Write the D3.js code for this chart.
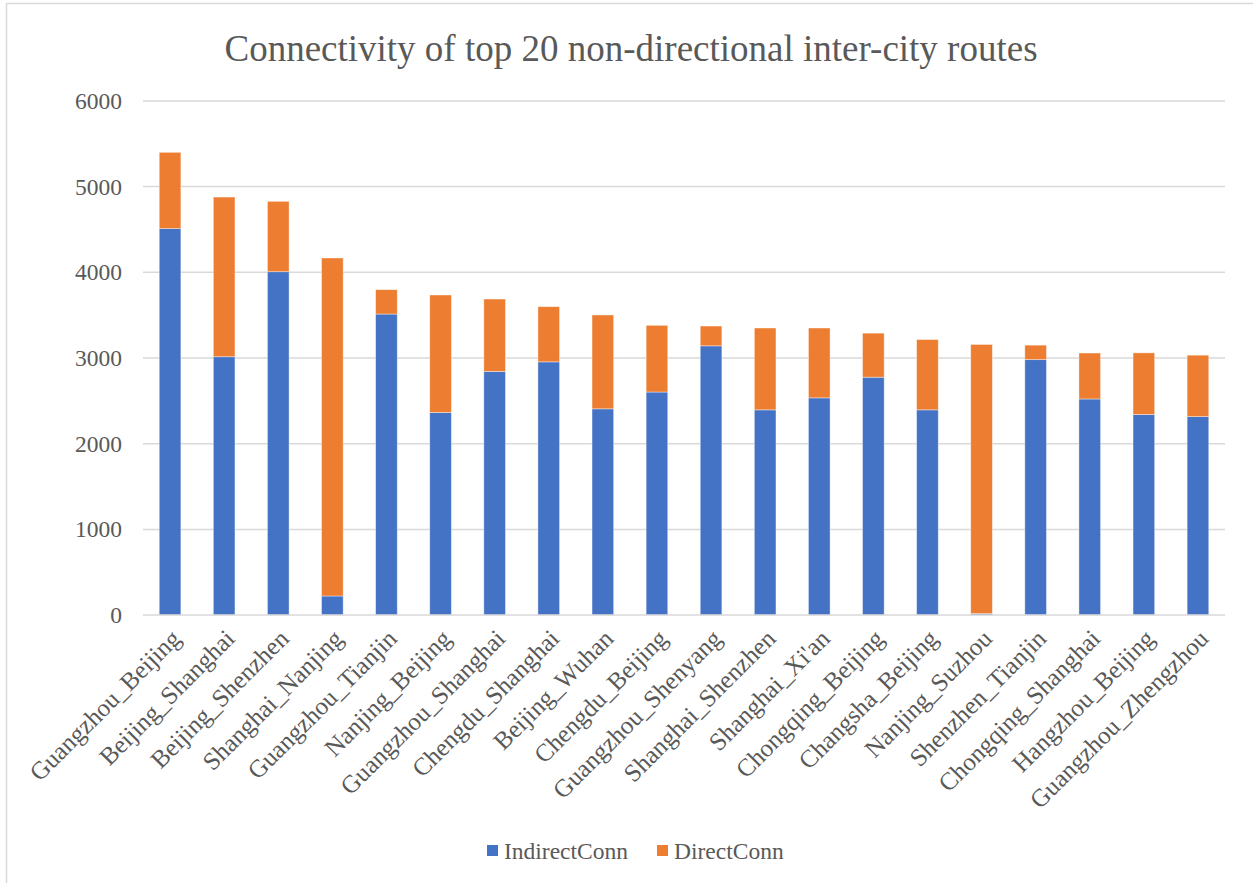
<!DOCTYPE html>
<html>
<head>
<meta charset="utf-8">
<script src="https://cdn.jsdelivr.net/npm/d3@7"></script>
<style>
  html, body { margin: 0; padding: 0; background: #fff; }
  svg { display: block; }
  text { font-family: "Liberation Serif", "Times New Roman", serif; fill: #595959; }
</style>
</head>
<body>
<svg id="chart" width="1253" height="883"></svg>
<script>
// Route names (x-axis categories)
const routes = [
  "Guangzhou_Beijing", "Beijing_Shanghai", "Beijing_Shenzhen", "Shanghai_Nanjing",
  "Guangzhou_Tianjin", "Nanjing_Beijing", "Guangzhou_Shanghai", "Chengdu_Shanghai",
  "Beijing_Wuhan", "Chengdu_Beijing", "Guangzhou_Shenyang", "Shanghai_Shenzhen",
  "Shanghai_Xi'an", "Chongqing_Beijing", "Changsha_Beijing", "Nanjing_Suzhou",
  "Shenzhen_Tianjin", "Chongqing_Shanghai", "Hangzhou_Beijing", "Guangzhou_Zhengzhou"
];

// Indirect connectivity per route
const indirectConn = [
  4510, 3015, 4007, 223, 3513, 2364, 2843, 2955, 2407, 2603,
  3142, 2395, 2535, 2776, 2395, 18, 2981, 2522, 2341, 2316
];

// Direct connectivity per route
const directConn = [
  890, 1863, 821, 3944, 284, 1371, 845, 644, 1095, 778,
  231, 955, 815, 514, 820, 3140, 169, 536, 719, 717
];

const seriesNames = ["IndirectConn", "DirectConn"];
const seriesColors = ["#4472C4", "#ED7D31"];
const yTicks = [0, 1000, 2000, 3000, 4000, 5000, 6000];

const titleText = "Connectivity of top 20 non-directional inter-city routes";

const svg = d3.select("#chart");
const W = 1253, H = 883;

// Chart area border
svg.append("rect")
  .attr("x", 6.5).attr("y", 3.5)
  .attr("width", W + 10).attr("height", H + 10)
  .attr("fill", "#fff").attr("stroke", "#d9d9d9").attr("stroke-width", 1.5);

const plot = { left: 143, right: 1225, top: 100.9, bottom: 615.1 };

const x = d3.scaleBand()
  .domain(routes)
  .range([plot.left, plot.right])
  .paddingInner(0.6)
  .paddingOuter(0.3);

const y = d3.scaleLinear()
  .domain([0, 6000])
  .range([plot.bottom, plot.top]);

// Title
svg.append("text")
  .attr("x", 631).attr("y", 61)
  .attr("text-anchor", "middle")
  .style("font-size", "37px")
  .text(titleText);

// Horizontal gridlines
svg.append("g")
  .selectAll("line")
  .data(yTicks.filter(t => t > 0))
  .join("line")
  .attr("x1", plot.left).attr("x2", plot.right)
  .attr("y1", d => y(d)).attr("y2", d => y(d))
  .attr("stroke", "#d9d9d9").attr("stroke-width", 1.5);

// Y axis labels
const yAxis = d3.axisLeft(y).tickValues(yTicks).tickFormat(d3.format("d")).tickSize(0).tickPadding(21);
const gy = svg.append("g")
  .attr("transform", `translate(${plot.left},0)`)
  .call(yAxis);
gy.select(".domain").remove();
gy.selectAll("text")
  .style("font-size", "23.5px")
  .style("font-family", "'Liberation Serif', 'Times New Roman', serif")
  .attr("fill", "#595959");

// Stacked bars
const rows = routes.map((r, i) => ({ route: r, IndirectConn: indirectConn[i], DirectConn: directConn[i] }));
const stacked = d3.stack().keys(seriesNames)(rows);

svg.append("g")
  .selectAll("g")
  .data(stacked)
  .join("g")
  .attr("fill", (d, i) => seriesColors[i])
  .selectAll("rect")
  .data(d => d)
  .join("rect")
  .attr("x", d => x(d.data.route))
  .attr("width", x.bandwidth())
  .attr("y", d => y(d[1]))
  .attr("height", d => y(d[0]) - y(d[1]))
  .attr("stroke", "#ffffff")
  .attr("stroke-opacity", 0.5)
  .attr("stroke-width", 0.8);

// Category axis
const xAxis = d3.axisBottom(x).tickSize(0).tickPadding(0);
const gx = svg.append("g")
  .attr("transform", `translate(0,${plot.bottom})`)
  .call(xAxis);
gx.select(".domain")
  .attr("d", `M${plot.left},0H${plot.right}`)
  .attr("stroke", "#d9d9d9").attr("stroke-width", 1.5);
gx.selectAll("text")
  .style("font-size", "25px")
  .style("font-family", "'Liberation Serif', 'Times New Roman', serif")
  .attr("fill", "#595959")
  .attr("text-anchor", "end")
  .attr("dy", "0")
  .attr("y", 0)
  .attr("transform", "translate(12,25) rotate(-45)");

// Legend
const legend = svg.append("g").attr("transform", "translate(0,851)");
const legendItems = [
  { name: seriesNames[0], color: seriesColors[0], x: 487 },
  { name: seriesNames[1], color: seriesColors[1], x: 657 }
];
legendItems.forEach(it => {
  legend.append("rect")
    .attr("x", it.x).attr("y", -6)
    .attr("width", 11).attr("height", 11)
    .attr("fill", it.color);
  legend.append("text")
    .attr("x", it.x + 17).attr("y", 8)
    .style("font-size", "23.5px")
    .text(it.name);
});
</script>
</body>
</html>
